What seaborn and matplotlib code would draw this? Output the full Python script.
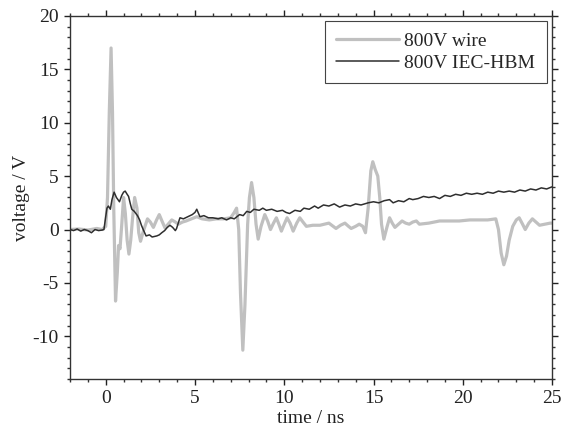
import numpy as np
import pandas as pd
import matplotlib
matplotlib.use("Agg")
import matplotlib.pyplot as plt
import seaborn as sns
from matplotlib.ticker import MultipleLocator

# ---- data ----
series_names = ["800V wire", "800V IEC-HBM"]

wire_points = [
    (-2.0, 0.0), (-1.5, 0.05), (-1.0, -0.05), (-0.5, 0.1), (-0.2, 0.0), (0.0, 0.3),
    (0.1, 3.0), (0.2, 11.0), (0.3, 17.0), (0.38, 11.0), (0.45, 2.0), (0.55, -6.7),
    (0.65, -4.0), (0.72, -1.5), (0.8, -1.8), (0.9, 0.5), (1.0, 3.0), (1.1, 1.5),
    (1.2, -1.0), (1.3, -2.3), (1.4, -1.0), (1.5, 1.0), (1.62, 3.0), (1.75, 2.0),
    (1.85, -0.3), (1.95, -1.1), (2.1, -0.2), (2.34, 1.0), (2.5, 0.7), (2.67, 0.2),
    (2.85, 0.9), (3.0, 1.4), (3.15, 0.8), (3.32, 0.15), (3.5, 0.5), (3.7, 0.9),
    (3.9, 0.7), (4.07, 0.5), (4.3, 0.7), (4.5, 0.8), (4.8, 1.0), (5.1, 1.2),
    (5.4, 1.0), (5.8, 0.9), (6.2, 1.0), (6.6, 1.0), (7.0, 1.1), (7.2, 1.6),
    (7.33, 2.0), (7.45, 0.0), (7.55, -6.0), (7.68, -11.3), (7.8, -7.0), (7.95, 0.5),
    (8.05, 3.0), (8.17, 4.4), (8.3, 3.0), (8.42, 0.5), (8.54, -0.9), (8.7, 0.3),
    (8.91, 1.4), (9.07, 0.8), (9.23, 0.0), (9.4, 0.6), (9.56, 1.1), (9.7, 0.5),
    (9.84, -0.15), (10.0, 0.5), (10.16, 1.1), (10.33, 0.6), (10.5, -0.15), (10.7, 0.6),
    (10.87, 1.1), (11.05, 0.7), (11.24, 0.3), (11.6, 0.4), (12.0, 0.4), (12.25, 0.5),
    (12.5, 0.6), (12.7, 0.35), (12.9, 0.1), (13.15, 0.4), (13.4, 0.6), (13.6, 0.3),
    (13.75, 0.1), (14.0, 0.3), (14.2, 0.5), (14.4, 0.3), (14.55, -0.3), (14.7, 2.0),
    (14.85, 5.5), (14.96, 6.35), (15.1, 5.6), (15.24, 5.0), (15.35, 3.0), (15.45, 0.5),
    (15.58, -0.9), (15.75, 0.2), (15.9, 1.1), (16.05, 0.6), (16.2, 0.2), (16.4, 0.5),
    (16.6, 0.8), (16.8, 0.6), (17.0, 0.5), (17.2, 0.7), (17.4, 0.8), (17.57, 0.5),
    (18.1, 0.6), (18.7, 0.8), (19.3, 0.8), (19.8, 0.8), (20.4, 0.9), (20.9, 0.9),
    (21.4, 0.9), (21.85, 1.0), (22.0, 0.0), (22.15, -2.2), (22.3, -3.3), (22.45, -2.5),
    (22.6, -1.0), (22.8, 0.3), (23.0, 0.9), (23.16, 1.1), (23.35, 0.5), (23.5, 0.0),
    (23.7, 0.6), (23.9, 1.0), (24.1, 0.7), (24.3, 0.4), (24.6, 0.5), (24.9, 0.6),
    (25.0, 0.6),
]

hbm_points = [
    (-2.0, 0.0), (-1.8, -0.1), (-1.6, 0.05), (-1.4, -0.15), (-1.2, 0.0), (-1.0, -0.1),
    (-0.8, -0.3), (-0.6, 0.0), (-0.4, -0.1), (-0.2, -0.05), (-0.1, 0.0), (0.0, 1.2),
    (0.07, 2.0), (0.15, 2.2), (0.26, 1.9), (0.35, 2.8), (0.47, 3.5), (0.6, 3.0),
    (0.77, 2.6), (0.9, 3.2), (1.0, 3.5), (1.09, 3.6), (1.2, 3.3), (1.28, 3.1),
    (1.38, 2.4), (1.46, 1.9), (1.6, 1.7), (1.78, 1.3), (1.9, 0.9), (2.0, 0.4),
    (2.1, 0.0), (2.26, -0.6), (2.45, -0.5), (2.6, -0.7), (2.86, -0.6), (3.0, -0.5),
    (3.14, -0.3), (3.3, -0.1), (3.45, 0.2), (3.6, 0.4), (3.75, 0.2), (3.9, -0.1),
    (3.97, 0.1), (4.1, 0.8), (4.16, 1.1), (4.35, 1.0), (4.6, 1.2), (4.85, 1.4),
    (5.0, 1.6), (5.1, 1.9), (5.2, 1.5), (5.28, 1.2), (5.5, 1.3), (5.75, 1.1),
    (6.0, 1.1), (6.3, 1.0), (6.5, 1.1), (6.77, 0.9), (7.0, 1.1), (7.2, 1.0),
    (7.5, 1.4), (7.7, 1.3), (7.9, 1.7), (8.1, 1.6), (8.3, 1.9), (8.6, 1.8),
    (8.8, 2.0), (9.0, 1.8), (9.3, 1.9), (9.6, 1.7), (9.9, 1.8), (10.1, 1.6),
    (10.3, 1.5), (10.6, 1.8), (10.9, 1.7), (11.1, 2.0), (11.4, 1.9), (11.7, 2.2),
    (11.9, 2.0), (12.2, 2.3), (12.5, 2.2), (12.8, 2.4), (13.1, 2.1), (13.4, 2.3),
    (13.7, 2.2), (14.0, 2.4), (14.3, 2.3), (14.7, 2.5), (15.0, 2.6), (15.3, 2.5),
    (15.6, 2.7), (15.9, 2.8), (16.1, 2.5), (16.4, 2.7), (16.7, 2.6), (17.0, 2.9),
    (17.2, 2.8), (17.5, 2.9), (17.8, 3.1), (18.1, 3.0), (18.4, 3.1), (18.7, 2.9),
    (19.0, 3.2), (19.3, 3.1), (19.6, 3.3), (19.9, 3.2), (20.2, 3.4), (20.5, 3.3),
    (20.8, 3.4), (21.1, 3.3), (21.4, 3.5), (21.7, 3.4), (22.0, 3.6), (22.3, 3.5),
    (22.6, 3.6), (22.9, 3.5), (23.2, 3.7), (23.5, 3.6), (23.8, 3.8), (24.1, 3.7),
    (24.4, 3.9), (24.7, 3.8), (25.0, 4.0),
]

x_ticks = [0, 5, 10, 15, 20, 25]
y_ticks = [-10, -5, 0, 5, 10, 15, 20]

# ---- build frame ----
frames = []
for name, pts in zip(series_names, [wire_points, hbm_points]):
    t, v = zip(*pts)
    frames.append(pd.DataFrame({"time": t, "voltage": v, "series": name}))
df = pd.concat(frames, ignore_index=True)

# ---- style ----
sns.set_style("ticks")
plt.rcParams["font.family"] = ["Liberation Serif", "DejaVu Serif"]
plt.rcParams["axes.unicode_minus"] = False
plt.rcParams["font.size"] = 14

fig = plt.figure(figsize=(5.61, 4.38), dpi=100)
ax = fig.add_axes([0.1248, 0.1347, 0.984 - 0.1248, 0.9635 - 0.1347])

palette = {"800V wire": "#c0c0c0", "800V IEC-HBM": "#2e2e2e"}
sns.lineplot(data=df[df.series == "800V wire"], x="time", y="voltage",
             color=palette["800V wire"], lw=2.3, ax=ax, label="800V wire",
             sort=False, estimator=None, solid_joinstyle="round")
sns.lineplot(data=df[df.series == "800V IEC-HBM"], x="time", y="voltage",
             color=palette["800V IEC-HBM"], lw=1.1, ax=ax, label="800V IEC-HBM",
             sort=False, estimator=None)

ax.set_xlim(-2, 25)
ax.set_ylim(-14, 20)
ax.set_xticks(x_ticks)
ax.set_yticks(y_ticks)
ax.xaxis.set_minor_locator(MultipleLocator(1))
ax.yaxis.set_minor_locator(MultipleLocator(1))
ax.tick_params(which="both", direction="out", top=True, right=True,
               labeltop=False, labelright=False, color="#333333", width=1.0)
ax.tick_params(which="major", length=4.5, labelsize=14, colors="#222222")
ax.tick_params(which="minor", length=2.5)
for sp in ax.spines.values():
    sp.set_visible(True)
    sp.set_linewidth(1.0)
    sp.set_color("#333333")

ax.set_xlabel("time / ns", fontsize=14, color="#222222", labelpad=2)
ax.set_ylabel("voltage / V", fontsize=14, color="#222222", labelpad=2)

leg = ax.legend(loc="upper right", frameon=True, fancybox=False, fontsize=14,
                handlelength=3.2, borderaxespad=0.25, labelspacing=0.2,
                handletextpad=0.3, borderpad=0.6)
leg.get_frame().set_edgecolor("#444444")
leg.get_frame().set_linewidth(0.8)
leg.get_frame().set_alpha(1)

fig.savefig("out.png", dpi=100)
